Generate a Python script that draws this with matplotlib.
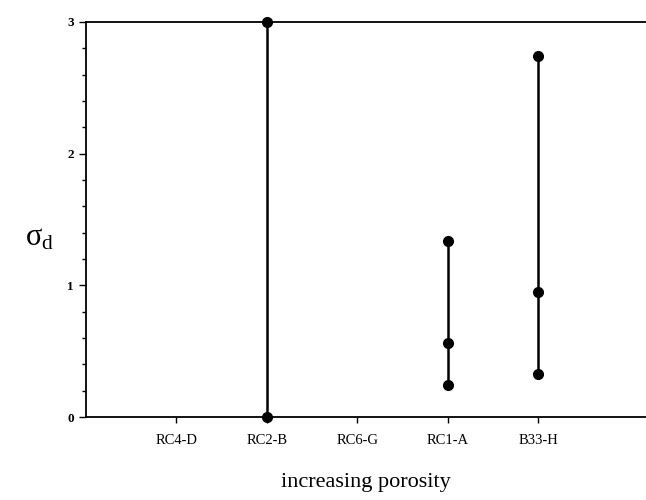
import matplotlib
matplotlib.use("Agg")
import matplotlib.pyplot as plt
from matplotlib.ticker import MultipleLocator

plt.rcParams['font.family'] = ['Liberation Serif', 'DejaVu Serif']
plt.rcParams['mathtext.fontset'] = 'stix'

samples = ["RC4-D", "RC2-B", "RC6-G", "RC1-A", "B33-H"]
# sigma_d values per sample (empty where no data)
sigma_values = [
    [],
    [0.0, 3.0],
    [],
    [0.24, 0.56, 1.34],
    [0.33, 0.95, 2.74],
]

fig = plt.figure(figsize=(6.46, 5.0), dpi=100)
ax = fig.add_axes([0.133, 0.166, 0.867, 0.79])

for i, vals in enumerate(sigma_values):
    if not vals:
        continue
    x = [i + 1] * len(vals)
    ax.plot(x, vals, color='black', lw=1.8, marker='o', ms=7, clip_on=False, zorder=3)

ax.set_xlim(0, 6.19)
ax.set_ylim(0, 3)
ax.set_xticks(range(1, len(samples) + 1))
ax.set_xticklabels(samples, fontsize=10.5)
ax.set_yticks([0, 1, 2, 3])
ax.set_yticklabels(['0', '1', '2', '3'], fontsize=9.5, fontweight='bold')
ax.yaxis.set_minor_locator(MultipleLocator(0.2))
ax.tick_params(axis='y', which='major', direction='out', length=5, width=1)
ax.tick_params(axis='y', which='minor', direction='out', length=3, width=1)
ax.tick_params(axis='x', which='major', direction='out', length=4, width=1, pad=8)

ax.spines['right'].set_visible(False)
for s in ['left', 'top', 'bottom']:
    ax.spines[s].set_linewidth(1.3)

ax.set_xlabel('increasing porosity', fontsize=16, labelpad=19)
fig.text(0.062, 0.525, r'$\mathregular{\sigma_d}$', fontsize=22, ha='center', va='center')

fig.savefig('out.png', dpi=100)
